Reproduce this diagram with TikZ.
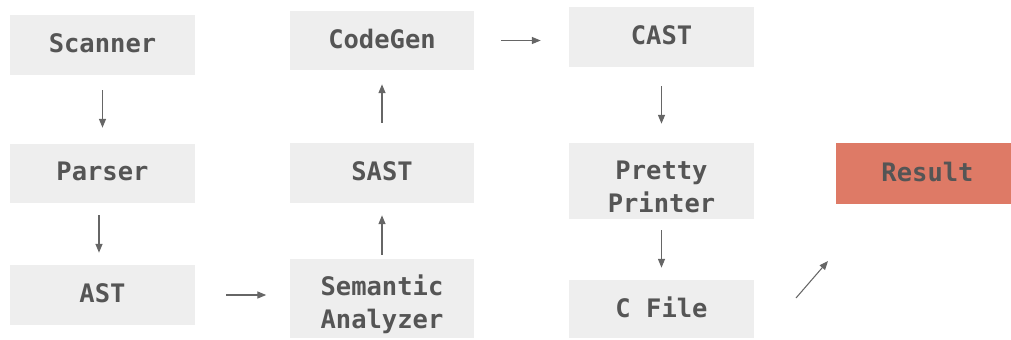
\documentclass[tikz,border=0pt]{standalone}
\usepackage{fontspec}
\setmonofont{DejaVu Sans Mono}
\usetikzlibrary{arrows.meta,calc}
\definecolor{boxgray}{HTML}{EEEEEE}
\definecolor{textgray}{HTML}{555555}
\definecolor{linegray}{HTML}{666666}
\definecolor{resultred}{HTML}{DE7A66}
\begin{document}
\begin{tikzpicture}[x=0.02cm,y=-0.02cm,
  stage/.style={fill=boxgray, draw=none, minimum width=3.7cm, inner sep=0pt},
  caption/.style={font=\ttfamily\bfseries\fontsize{14.5}{18.5}\selectfont, text=textgray,
    align=center, inner sep=0pt},
  oneline/.style={label={[caption, yshift=0.04cm]center:#1}},
  twoline/.style={label={[caption, yshift=-0.12cm]center:#1}},
  flow/.style={draw=linegray, line width=0.6pt, -{Triangle[length=5pt,width=4pt]}}]
  \useasboundingbox (0,0) rectangle (1011,339);

  % first column
  \node[stage, minimum height=1.2cm,  oneline=Scanner] (scanner) at (102.5,45)   {};
  \node[stage, minimum height=1.18cm, oneline=Parser]  (parser)  at (102.5,173.5) {};
  \node[stage, minimum height=1.2cm,  oneline=AST]     (ast)     at (102.5,295)  {};

  % second column
  \node[stage, minimum height=1.18cm, oneline=CodeGen] (codegen) at (382,40.5)  {};
  \node[stage, minimum height=1.2cm,  oneline=SAST]    (sast)    at (382,173)   {};
  \node[stage, minimum height=1.58cm, twoline={Semantic\\Analyzer}] (sema) at (382,298.5) {};

  % third column
  \node[stage, minimum height=1.2cm,  oneline=CAST]    (cast)    at (661.5,37)  {};
  \node[stage, minimum height=1.52cm, twoline={Pretty\\Printer}] (pretty) at (661.5,181) {};
  \node[stage, minimum height=1.16cm, oneline={C File}] (cfile)  at (661.5,309) {};

  % output
  \node[stage, fill=resultred, minimum width=3.5cm, minimum height=1.22cm,
    label={[caption, xshift=0.08cm, yshift=0.04cm]center:Result}] (result) at (923.5,173.5) {};

  % connectors
  \draw[flow, shorten <=0.3cm,  shorten >=0.32cm] (scanner.south) -- (parser.north);
  \draw[flow, shorten <=0.24cm, shorten >=0.24cm] ([xshift=-0.07cm]parser.south) -- ([xshift=-0.07cm]ast.north);
  \draw[flow, shorten <=0.62cm, shorten >=0.46cm] (ast.east) -- (ast.east -| sema.west);
  \draw[flow, shorten <=0.08cm, shorten >=0.24cm] (sema.north) -- (sast.south);
  \draw[flow, shorten <=0.4cm,  shorten >=0.28cm] (sast.north) -- (codegen.south);
  \draw[flow, shorten <=0.52cm, shorten >=0.56cm] (codegen.east) -- (codegen.east -| cast.west);
  \draw[flow, shorten <=0.38cm, shorten >=0.38cm] (cast.south) -- (pretty.north);
  \draw[flow, shorten <=0.22cm, shorten >=0.24cm] (pretty.south) -- (cfile.north);
  \coordinate (cfile-out) at (796,298);
  \coordinate (result-in) at (828,261);
  \draw[flow] (cfile-out) -- (result-in);
\end{tikzpicture}
\end{document}
